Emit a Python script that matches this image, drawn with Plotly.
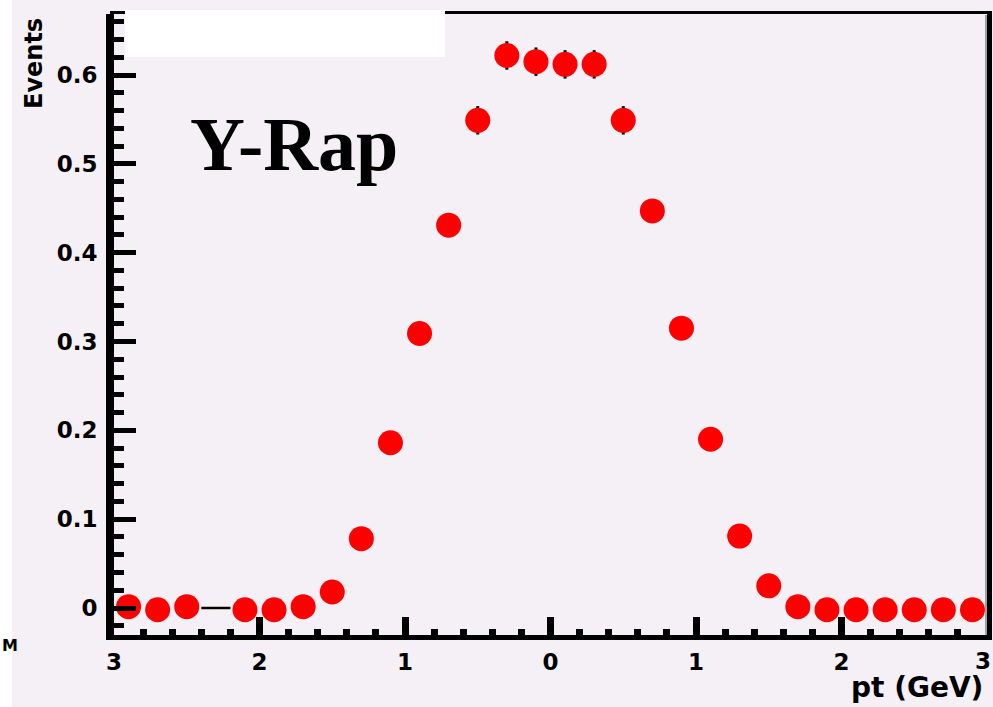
import plotly.graph_objects as go

# Rapidity distribution: 30 bins of width 0.2 over [-3, 3]
bin_centers = [-2.9, -2.7, -2.5, -2.3, -2.1, -1.9, -1.7, -1.5, -1.3, -1.1,
               -0.9, -0.7, -0.5, -0.3, -0.1, 0.1, 0.3, 0.5, 0.7, 0.9,
               1.1, 1.3, 1.5, 1.7, 1.9, 2.1, 2.3, 2.5, 2.7, 2.9]
events = [0.0015, -0.002, 0.0015, 0.0, -0.002, -0.002, 0.0015, 0.018, 0.078, 0.186,
          0.309, 0.431, 0.549, 0.622, 0.615, 0.612, 0.612, 0.549, 0.447, 0.315,
          0.190, 0.081, 0.025, 0.0015, -0.002, -0.002, -0.002, -0.002, -0.002, -0.002]
errors = [0.002, 0.002, 0.002, 0.0, 0.002, 0.002, 0.002, 0.004, 0.006, 0.008,
          0.010, 0.012, 0.016, 0.016, 0.016, 0.016, 0.016, 0.016, 0.012, 0.010,
          0.008, 0.006, 0.004, 0.002, 0.002, 0.002, 0.002, 0.002, 0.002, 0.002]
bin_half_width = 0.1

x_tickvals = [-3, -2, -1, 0, 1, 2, 3]
x_ticktext = ["3", "2", "1", "0", "1", "2", "3"]
y_tickvals = [0, 0.1, 0.2, 0.3, 0.4, 0.5, 0.6]
y_ticktext = ["0", "0.1", "0.2", "0.3", "0.4", "0.5", "0.6"]

W, H = 993, 707
L, R, T, B = 114, 6, 14, 72
PW, PH = W - L - R, H - T - B


def px_x(p):
    return (p - L) / PW


def px_y(p):
    return 1 - (p - T) / PH


BG = "#f5f0f5"

filled_x = [x for x, v in zip(bin_centers, events) if v != 0]
filled_y = [v for v in events if v != 0]
filled_e = [e for e, v in zip(errors, events) if v != 0]
empty_x = [x for x, v in zip(bin_centers, events) if v == 0]
empty_y = [v for v in events if v == 0]

fig = go.Figure()

# empty bins: only the horizontal bin-width bar
fig.add_trace(go.Scatter(
    x=empty_x, y=empty_y, mode="markers",
    marker=dict(size=1, color="rgba(0,0,0,0)"),
    error_x=dict(type="constant", value=bin_half_width, color="black",
                 thickness=2.5, width=0),
    showlegend=False, hoverinfo="skip",
))

fig.add_trace(go.Scatter(
    x=filled_x, y=filled_y, mode="markers",
    marker=dict(symbol="circle", size=25, color="#ff0000", line=dict(width=0)),
    error_y=dict(type="data", array=filled_e, color="black", thickness=3, width=0),
    showlegend=False,
))

tick_font = dict(family="DejaVu Sans", size=23, color="black", weight="bold")

# the last x label sits at the canvas edge; it is drawn right-aligned below
axis_ticktext = x_ticktext[:-1] + [""]

fig.update_xaxes(
    range=[-3, 3], tickvals=x_tickvals, ticktext=axis_ticktext,
    showgrid=False, zeroline=False, automargin=False,
    showline=True, linecolor="black", linewidth=5,
    ticks="inside", ticklen=18, tickwidth=7, tickcolor="black",
    minor=dict(dtick=0.2, ticks="inside", ticklen=6, tickwidth=7,
               tickcolor="black", showgrid=False),
    tickfont=tick_font, ticklabelstandoff=2, ticklabeloverflow="allow",
)
fig.update_yaxes(
    range=[-0.0304, 0.6687], tickvals=y_tickvals, ticktext=y_ticktext,
    showgrid=False, zeroline=False, automargin=False,
    showline=True, linecolor="black", linewidth=8,
    ticks="inside", ticklen=22, tickwidth=5, tickcolor="black",
    minor=dict(dtick=0.02, ticks="inside", ticklen=10, tickwidth=5,
               tickcolor="black", showgrid=False),
    tickfont=tick_font, ticklabelstandoff=4,
)

shapes = [
    # white strip along the left edge of the canvas
    dict(type="rect", xref="paper", yref="paper",
         x0=px_x(-2), x1=px_x(12), y0=px_y(H + 2), y1=px_y(-2),
         fillcolor="white", line=dict(width=0), layer="below"),
    # top and right frame lines
    dict(type="line", xref="paper", yref="paper",
         x0=px_x(110), x1=px_x(992), y0=px_y(12.5), y1=px_y(12.5),
         line=dict(color="black", width=3)),
    dict(type="line", xref="paper", yref="paper",
         x0=px_x(986), x1=px_x(986), y0=px_y(15), y1=px_y(635),
         line=dict(color="#a0a0a0", width=2)),
    dict(type="line", xref="paper", yref="paper",
         x0=px_x(989.5), x1=px_x(989.5), y0=px_y(11), y1=px_y(640),
         line=dict(color="black", width=5)),
    # blank title box
    dict(type="rect", xref="paper", yref="paper",
         x0=px_x(125), x1=px_x(445), y0=px_y(57), y1=px_y(10),
         fillcolor="white", line=dict(width=0)),
]

annotations = [
    dict(text=x_ticktext[-1], xref="paper", yref="paper", x=px_x(993), y=px_y(661),
         xanchor="right", yanchor="middle", showarrow=False,
         font=tick_font),
    dict(text="Y-Rap", xref="paper", yref="paper", x=px_x(188), y=px_y(144),
         xanchor="left", yanchor="middle", showarrow=False,
         font=dict(family="Liberation Serif", size=76, color="black", weight="bold")),
    dict(text="Events", xref="paper", yref="paper", x=px_x(34), y=px_y(64),
         xanchor="center", yanchor="middle", textangle=-90, showarrow=False,
         font=dict(family="DejaVu Sans", size=24, color="black", weight="bold")),
    dict(text="pt (GeV)", xref="paper", yref="paper", x=px_x(985), y=px_y(687),
         xanchor="right", yanchor="middle", showarrow=False,
         font=dict(family="DejaVu Sans", size=28, color="black", weight="bold")),
    dict(text="M", xref="paper", yref="paper", x=px_x(0), y=px_y(645),
         xanchor="left", yanchor="middle", showarrow=False,
         font=dict(family="DejaVu Sans", size=16, color="black", weight="bold")),
]

fig.update_layout(
    width=W, height=H,
    margin=dict(l=L, r=R, t=T, b=B, pad=0, autoexpand=False),
    paper_bgcolor=BG, plot_bgcolor=BG,
    shapes=shapes, annotations=annotations,
    showlegend=False,
)

fig.write_html("out.html")
